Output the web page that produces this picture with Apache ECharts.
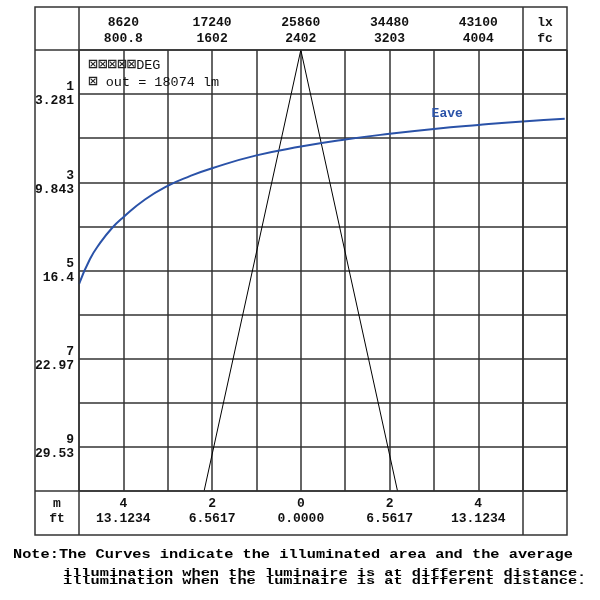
<!DOCTYPE html>
<html>
<head>
<meta charset="utf-8">
<script src="https://cdn.jsdelivr.net/npm/echarts@6/dist/echarts.min.js"></script>
<style>html,body{margin:0;padding:0;background:#fff}#c{width:600px;height:600px}</style>
</head>
<body>
<div id="c"></div>
<script>
// ---- data ----
const luxTicks = [8620, 17240, 25860, 34480, 43100];
const fcTicks = ['800.8', '1602', '2402', '3203', '4004'];
const mTicks = [-4, -2, 0, 2, 4];
const mLabels = ['4', '2', '0', '2', '4'];
const ftLabels = ['13.1234', '6.5617', '0.0000', '6.5617', '13.1234'];
const distTicks = [1, 3, 5, 7, 9];
const distFt = ['3.281', '9.843', '16.4', '22.97', '29.53'];
const eaveLux = [4310, 5378, 6349, 7543, 8620, 10720, 12930, 15085, 17240, 21550, 25860, 30170, 34480, 38790, 43100, 47410, 51500];
const eaveDist = [5.31, 4.74, 4.38, 4.03, 3.79, 3.39, 3.08, 2.86, 2.68, 2.39, 2.19, 2.03, 1.90, 1.79, 1.70, 1.62, 1.56];
const beamM = [-2.18, 0, 2.18];
const beamDist = [10, 0, 10];
const legendBoxes = '⊠⊠⊠⊠⊠';
const legendLine1 = 'DEG';
const legendBox2 = '⊠';
const legendLine2 = ' out = 18074 lm';
const curveName = 'Eave';
const noteLine1 = 'Note:The Curves indicate the illuminated area and the average';
const noteLine2 = 'illumination when the luminaire is at different distance.';

const FONT = "'Liberation Mono', 'DejaVu Sans Mono', monospace";
const GRID = '#333';
const chart = echarts.init(document.getElementById('c'), null, {renderer: 'canvas'});

const lbl = {fontFamily: FONT, fontWeight: 'bold', fontSize: 13, color: '#111', lineHeight: 15};

const noteStyle = {font: "bold 15.3px " + FONT, fill: '#000', align: 'left', verticalAlign: 'middle'};

chart.setOption({
  animation: false,
  backgroundColor: '#fff',
  grid: {left: 79, top: 50, width: 488, height: 441, containLabel: false},
  xAxis: [
    {
      type: 'value', position: 'bottom', min: -5, max: 6, interval: 1,
      axisLine: {show: false}, axisTick: {show: false},
      splitLine: {show: true, lineStyle: {color: GRID, width: 1.5}},
      axisLabel: Object.assign({}, lbl, {
        margin: 5, customValues: mTicks,
        formatter: v => { const i = mTicks.indexOf(v); return i < 0 ? '' : mLabels[i] + '\n' + ftLabels[i]; }
      })
    },
    {
      type: 'value', position: 'top', min: 4310, max: 51720,
      axisLine: {show: false}, axisTick: {show: false}, splitLine: {show: false},
      axisLabel: Object.assign({}, lbl, {
        margin: 3, customValues: luxTicks, lineHeight: 16,
        formatter: v => { const i = luxTicks.indexOf(v); return i < 0 ? '' : luxTicks[i] + '\n' + fcTicks[i]; }
      })
    }
  ],
  yAxis: [{
    type: 'value', inverse: true, min: 0, max: 10, interval: 1,
    axisLine: {show: false}, axisTick: {show: false},
    splitLine: {show: true, lineStyle: {color: GRID, width: 1.5}},
    axisLabel: Object.assign({}, lbl, {
      margin: 5, customValues: distTicks, lineHeight: 14, align: 'right',
      formatter: v => { const i = distTicks.indexOf(v); return i < 0 ? '' : distTicks[i] + '\n' + distFt[i]; }
    })
  }],
  series: [
    {
      type: 'line', xAxisIndex: 0, yAxisIndex: 0, symbol: 'none', clip: false,
      lineStyle: {color: '#000', width: 1},
      data: beamM.map((m, i) => [m, beamDist[i]])
    },
    {
      type: 'line', name: curveName, xAxisIndex: 1, yAxisIndex: 0, symbol: 'none', smooth: 0.5, clip: false,
      lineStyle: {color: '#2a52a8', width: 2},
      data: eaveLux.map((x, i) => [x, eaveDist[i]]),
      markPoint: {
        symbol: 'circle', symbolSize: 0,
        label: {show: true, formatter: curveName, color: '#2a52a8', fontFamily: FONT, fontWeight: 'bold', fontSize: 13, position: 'inside'},
        data: [{coord: [40080, 1.45]}]
      }
    }
  ],
  graphic: [
    {type: 'rect', shape: {x: 35, y: 7, width: 532, height: 528}, style: {fill: 'none', stroke: GRID, lineWidth: 1.5}, z: 10},
    {type: 'line', shape: {x1: 35, y1: 50, x2: 567, y2: 50}, style: {stroke: GRID, lineWidth: 1.5}, z: 10},
    {type: 'line', shape: {x1: 35, y1: 491, x2: 567, y2: 491}, style: {stroke: GRID, lineWidth: 1.5}, z: 10},
    {type: 'line', shape: {x1: 79, y1: 7, x2: 79, y2: 535}, style: {stroke: GRID, lineWidth: 1.5}, z: 10},
    {type: 'line', shape: {x1: 523, y1: 7, x2: 523, y2: 535}, style: {stroke: GRID, lineWidth: 1.5}, z: 10},
    {type: 'text', x: 545, y: 31, style: {text: 'lx\nfc', font: "bold 13px " + FONT, fill: '#111', align: 'center', verticalAlign: 'middle', lineHeight: 16}, z: 11},
    {type: 'text', x: 57, y: 511, style: {text: 'm\nft', font: "bold 13px " + FONT, fill: '#111', align: 'center', verticalAlign: 'middle', lineHeight: 15}, z: 11},
    {type: 'text', x: 88, y: 65, style: {
      text: '{b|' + legendBoxes + '}{t|' + legendLine1 + '}',
      align: 'left', verticalAlign: 'middle',
      rich: {b: {font: "16px 'DejaVu Sans Mono', monospace", fill: '#222', height: 16}, t: {font: "13.5px " + FONT, fill: '#111'}}
    }, z: 11},
    {type: 'text', x: 88, y: 82, style: {
      text: '{b|' + legendBox2 + '}{t|' + legendLine2 + '}',
      align: 'left', verticalAlign: 'middle',
      rich: {b: {font: "16px 'DejaVu Sans Mono', monospace", fill: '#222', height: 16}, t: {font: "13.5px " + FONT, fill: '#111'}}
    }, z: 11},
    {type: 'text', x: 13, y: 555, scaleY: 0.78, style: Object.assign({text: noteLine1}, noteStyle), z: 11},
    {type: 'text', x: 63, y: 573, scaleY: 0.75, style: Object.assign({text: noteLine2}, noteStyle), z: 11},
    {type: 'text', x: 63, y: 581, scaleY: 0.75, style: Object.assign({text: noteLine2}, noteStyle), z: 11}
  ]
});
</script>
</body>
</html>
